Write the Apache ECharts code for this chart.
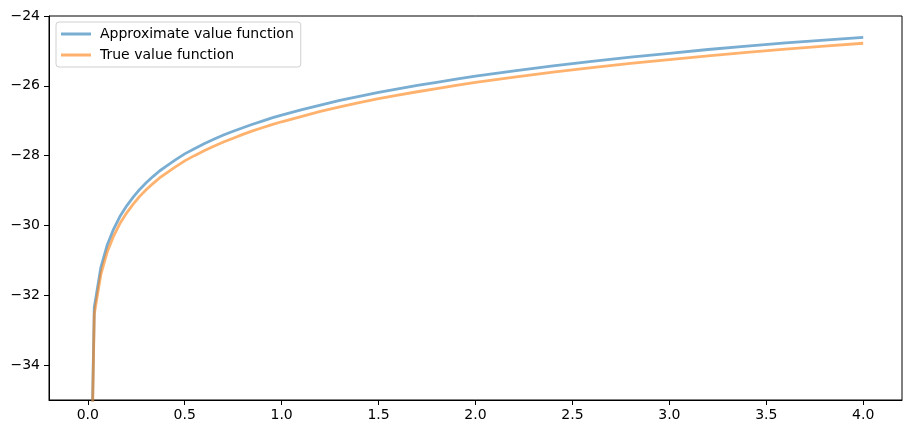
<!DOCTYPE html>
<html>
<head>
<meta charset="utf-8">
<script src="https://cdn.jsdelivr.net/npm/echarts@6/dist/echarts.min.js"></script>
<style>html,body{margin:0;padding:0;background:#fff}#c{width:911px;height:434px}</style>
</head>
<body>
<div id="c"></div>
<script>
// x positions (grid of income values)
const xs = [0.00001, 0.0336, 0.0672, 0.1008, 0.1345, 0.1681, 0.2017, 0.2353, 0.2689, 0.3025, 0.3361, 0.37, 0.4, 0.45, 0.5, 0.55, 0.6, 0.65, 0.7, 0.75, 0.8, 0.85, 0.9, 0.95, 1.0, 1.1, 1.2, 1.3, 1.4, 1.5, 1.6, 1.7, 1.8, 1.9, 2.0, 2.2, 2.4, 2.6, 2.8, 3.0, 3.2, 3.4, 3.6, 3.8, 4.0];
// Approximate value function values
const approxV = [-42.6, -32.34, -31.21, -30.55, -30.09, -29.72, -29.43, -29.18, -28.96, -28.77, -28.60, -28.44, -28.32, -28.13, -27.95, -27.80, -27.66, -27.53, -27.41, -27.30, -27.20, -27.10, -27.01, -26.92, -26.84, -26.69, -26.55, -26.42, -26.30, -26.19, -26.09, -25.99, -25.90, -25.81, -25.72, -25.57, -25.43, -25.30, -25.18, -25.07, -24.96, -24.86, -24.77, -24.69, -24.61];
// True value function values
const trueV = [-43.0, -32.54, -31.41, -30.75, -30.29, -29.92, -29.63, -29.38, -29.16, -28.97, -28.80, -28.64, -28.52, -28.33, -28.15, -28.00, -27.86, -27.73, -27.61, -27.50, -27.39, -27.29, -27.20, -27.11, -27.03, -26.88, -26.73, -26.60, -26.48, -26.37, -26.27, -26.17, -26.08, -25.99, -25.90, -25.75, -25.61, -25.48, -25.36, -25.25, -25.14, -25.04, -24.95, -24.86, -24.78];
const seriesNames = ['Approximate value function', 'True value function'];
const xTicks = [0.0, 0.5, 1.0, 1.5, 2.0, 2.5, 3.0, 3.5, 4.0];
const yTicks = [-34, -32, -30, -28, -26, -24];

const fmtMinus = v => (v < 0 ? '\u2212' : '') + Math.abs(v);
const font = 'DejaVu Sans';
const blue = 'rgba(31,119,180,0.6)';
const orange = 'rgba(255,127,14,0.6)';

const chart = echarts.init(document.getElementById('c'), null, {renderer: 'canvas'});
chart.setOption({
  animation: false,
  backgroundColor: '#fff',
  grid: {left: 49, right: 9, top: 16, bottom: 34, show: true, borderColor: '#000', borderWidth: 1, backgroundColor: 'transparent'},
  legend: {
    left: 56, top: 22, orient: 'vertical',
    data: seriesNames.map((n, i) => ({name: n, icon: 'rect', itemStyle: {color: i === 0 ? blue : orange}})),
    itemWidth: 30, itemHeight: 3, itemGap: 7,
    padding: [5, 7, 5, 5],
    backgroundColor: 'rgba(255,255,255,0.8)',
    borderColor: '#d0d0d0', borderWidth: 1, borderRadius: 3,
    textStyle: {fontFamily: font, fontSize: 14, color: '#000', lineHeight: 14, padding: [0, 0, 0, 4]}
  },
  xAxis: {
    type: 'value', min: -0.2, max: 4.2,
    splitLine: {show: false},
    axisLine: {show: true, onZero: false, lineStyle: {color: '#000', width: 1}},
    axisTick: {show: true, inside: false, length: 5, customValues: xTicks, lineStyle: {color: '#000'}},
    axisLabel: {customValues: xTicks, formatter: v => v.toFixed(1), fontFamily: font, fontSize: 14, color: '#000', margin: 8, showMinLabel: true, showMaxLabel: true}
  },
  yAxis: {
    type: 'value', min: -35, max: -24,
    splitLine: {show: false},
    axisLine: {show: true, onZero: false, lineStyle: {color: '#000', width: 1}},
    axisTick: {show: true, inside: false, length: 5, customValues: yTicks, lineStyle: {color: '#000'}},
    axisLabel: {customValues: yTicks, formatter: fmtMinus, fontFamily: font, fontSize: 14, color: '#000', margin: 9}
  },
  series: [
    {name: seriesNames[0], type: 'line', data: xs.map((x, i) => [x, approxV[i]]), showSymbol: false, symbol: 'none', clip: true,
     color: blue, lineStyle: {color: blue, width: 2.8}, z: 2},
    {name: seriesNames[1], type: 'line', data: xs.map((x, i) => [x, trueV[i]]), showSymbol: false, symbol: 'none', clip: true,
     color: orange, lineStyle: {color: orange, width: 2.8}, z: 3}
  ]
});
</script>
</body>
</html>
